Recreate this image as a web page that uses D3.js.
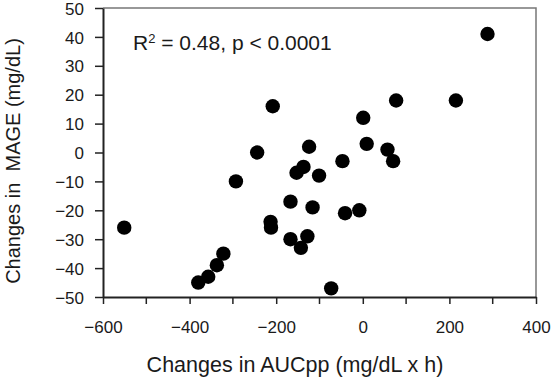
<!DOCTYPE html>
<html>
<head>
<meta charset="utf-8">
<script src="https://cdn.jsdelivr.net/npm/d3@7"></script>
<style>
  body { margin: 0; background: #fff; }
  svg text { font-family: "Liberation Sans", Arial, sans-serif; fill: #1a1a1a; }
</style>
</head>
<body>
<div id="chart"></div>
<script>
// 数据：AUCpp 变化 vs MAGE 变化
const aucChange = [-551, -380, -357, -337, -322, -293, -244, -208, -213, -212,
  -167, -167, -153, -137, -143, -128, -124, -116, -101, -73,
  -47, -41, -8, 1, 9, 57, 70, 77, 215, 288];
const mageChange = [-26, -45, -43, -39, -35, -10, 0, 16, -24, -26,
  -17, -30, -7, -5, -33, -29, 2, -19, -8, -47,
  -3, -21, -20, 12, 3, 1, -3, 18, 18, 41];
const xTicks = [-600, -400, -200, 0, 200, 400];
const xMinor = [-500, -300, -100, 100, 300];
const yTicks = [50, 40, 30, 20, 10, 0, -10, -20, -30, -40, -50];

const W = 552, H = 378;
const margin = { top: 8, right: 16, bottom: 81, left: 103 };
const width = W - margin.left - margin.right;
const height = H - margin.top - margin.bottom;

const svg = d3.select('#chart').append('svg')
  .attr('width', W).attr('height', H);
const g = svg.append('g')
  .attr('transform', `translate(${margin.left},${margin.top})`);

const x = d3.scaleLinear().domain([-600, 400]).range([0, width]);
const y = d3.scaleLinear().domain([-50, 50]).range([height, 0]);

// 上、右边框（灰色细线）
g.append('path')
  .attr('d', `M0,0H${width}V${height}`)
  .attr('fill', 'none').attr('stroke', '#777').attr('stroke-width', 1.5);

// x 轴
const xAxis = g.append('g')
  .attr('transform', `translate(0,${height})`)
  .call(d3.axisBottom(x).tickValues(xTicks).tickSize(7).tickSizeOuter(0).tickPadding(17));
xAxis.append('g').selectAll('line').data(xMinor).join('line')
  .attr('x1', d => x(d)).attr('x2', d => x(d))
  .attr('y1', 0).attr('y2', 7).attr('stroke', '#222').attr('stroke-width', 1.5);

// y 轴
const yAxis = g.append('g')
  .call(d3.axisLeft(y).tickValues(yTicks).tickSize(8).tickPadding(11).tickSizeOuter(0));

[xAxis, yAxis].forEach(ax => {
  ax.select('.domain').attr('stroke', '#222').attr('stroke-width', 2);
  ax.selectAll('.tick line').attr('stroke', '#222').attr('stroke-width', 1.5);
  ax.selectAll('.tick text').style('font-size', '17px')
    .style('font-family', '"Liberation Sans", Arial, sans-serif').attr('fill', '#1a1a1a');
});
yAxis.selectAll('.tick text').attr('dy', '0.36em');

// 散点
g.selectAll('circle.pt')
  .data(aucChange.map((v, i) => [v, mageChange[i]]))
  .join('circle')
  .attr('class', 'pt')
  .attr('cx', d => x(d[0]))
  .attr('cy', d => y(d[1]))
  .attr('r', 7.2)
  .attr('fill', '#000');

// 注释
g.append('text')
  .attr('x', 30).attr('y', 42)
  .style('font-size', '21px')
  .html('R<tspan font-size="13px" dy="-7">2</tspan><tspan dy="7"> = 0.48, p &lt; 0.0001</tspan>');

// 轴标题
svg.append('text')
  .attr('x', 295).attr('y', 372)
  .attr('text-anchor', 'middle')
  .style('font-size', '21.5px')
  .text('Changes in AUCpp (mg/dL x h)');

svg.append('text')
  .attr('transform', 'rotate(-90)')
  .attr('x', -161).attr('y', 20)
  .attr('text-anchor', 'middle')
  .style('font-size', '20px')
  .style('white-space', 'pre')
  .text('Changes in  MAGE (mg/dL)');
</script>
</body>
</html>
